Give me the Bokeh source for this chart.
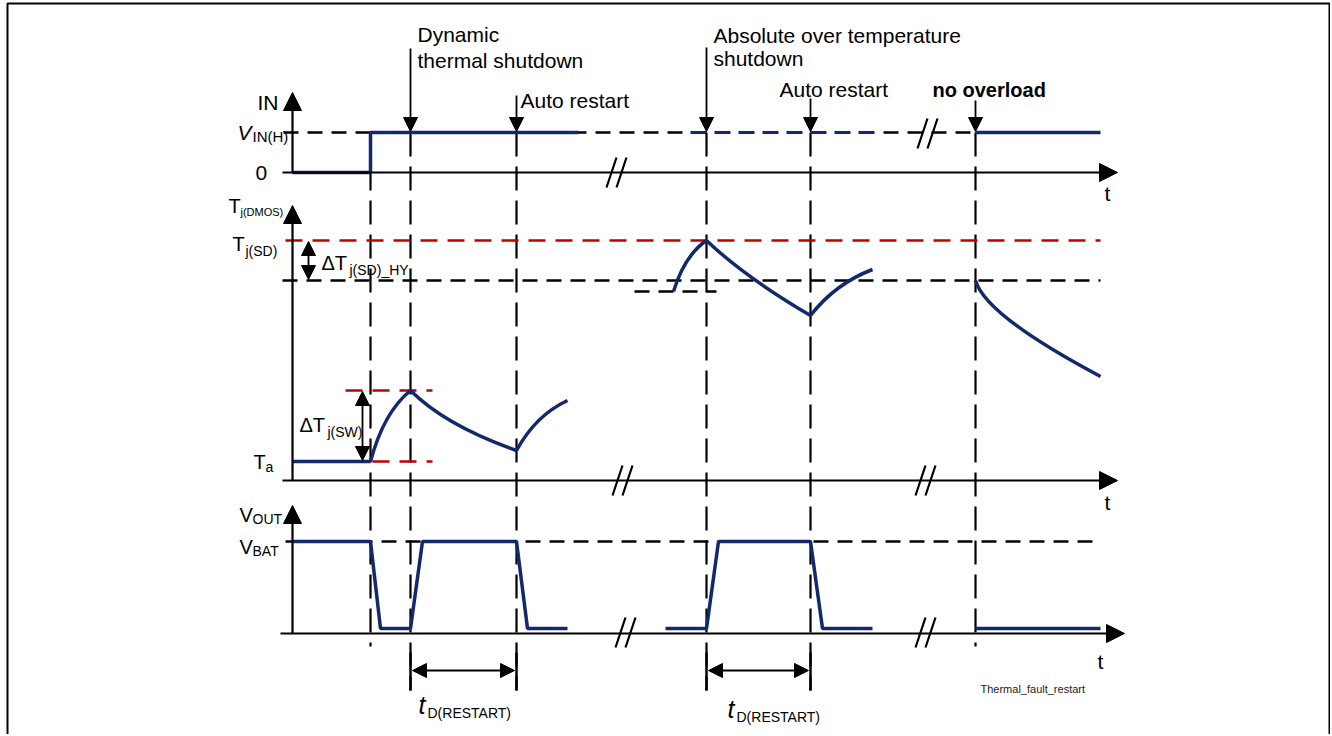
from bokeh.plotting import figure
from bokeh.models import Range1d, Arrow, NormalHead
from bokeh.core.properties import value
from bokeh.embed import file_html
from bokeh.resources import INLINE

# ---------------- data (diagram coordinates: x = time position, y = level row) ----------
# event instants
event_x = [370, 410, 516, 706, 810, 975]
vline_top = [132, 132, 132, 132, 132, 132]
vline_bot = [646, 690, 690, 690, 690, 646]

# IN signal
in1_x = [292, 370, 370, 578]
in1_y = [172, 172, 132, 132]
in2_x = [680, 880]
in2_y = [132, 132]
in3_x = [975, 1100]
in3_y = [132, 132]

# Tj: ambient level and curve segments (quadratic pieces)
ta_x = [292, 370]
ta_y = [461, 461]
tj_x0 = [370, 410, 516, 673, 706, 810, 975]
tj_y0 = [461, 390, 450, 291, 240, 315, 280]
tj_x1 = [410, 516, 567, 706, 810, 872, 1100]
tj_y1 = [390, 450, 400, 240, 315, 269, 376]
tj_cx = [383, 445, 535, 684, 745, 835, 985]
tj_cy = [412, 425, 415, 255, 277, 283, 315]

# VOUT signal
vo1_x = [292, 370, 380, 410, 422, 516, 527, 567]
vo1_y = [541, 541, 628, 628, 541, 541, 628, 628]
vo2_x = [665, 706, 718, 810, 822, 872]
vo2_y = [628, 628, 541, 541, 628, 628]
vo3_x = [975, 1100]
vo3_y = [628, 628]

# reference levels (dashed)
blk_x0 = [283, 282, 634, 285]
blk_x1 = [975, 1100, 716, 1100]
blk_y = [132, 280, 291, 541]
red_x0 = [285, 345, 372]
red_x1 = [1100, 432, 432]
red_y = [240, 390, 461]

# axes
yaxis_x = [292, 292, 292]
yaxis_y0 = [172, 480, 633]
yaxis_y1 = [92, 205, 505]
taxis_x0 = [282, 282, 280]
taxis_x1 = [1117, 1117, 1124]
taxis_y = [172, 480, 633]

# axis break marks "//"
brk_xs = [[606, 616], [616, 626], [612, 622], [622, 632], [915, 925], [925, 935],
          [615, 625], [625, 635], [915, 925], [925, 935], [917, 927], [927, 937]]
brk_ys = [[187, 157], [187, 157], [495, 465], [495, 465], [495, 465], [495, 465],
          [647, 617], [647, 617], [647, 617], [647, 617], [148, 118], [148, 118]]

# annotation arrows
ev_arrow_x = [410, 516, 706, 810, 975]
ev_arrow_y0 = [48, 95, 47, 98, 100]
ev_arrow_y1 = [131, 131, 131, 131, 131]
dbl_v_x = [308, 362]
dbl_v_y0 = [241, 391]
dbl_v_y1 = [279, 460]
dim_x0 = [410, 706]
dim_x1 = [516, 810]
dim_y = [670, 670]

# frame
frame_l, frame_r, frame_t, frame_b = [7], [1329], [3], [740]

# texts
main_txt = ["Dynamic", "thermal shutdown", "Auto restart", "Absolute over temperature",
            "shutdown", "Auto restart", "IN", "0", "t", "t", "t"]
main_x = [417, 417, 520, 713, 713, 779, 257, 255, 1104, 1104, 1097]
main_y = [34, 60, 100, 35, 58, 89, 102, 172, 193, 502, 661]

sym_txt = ["T", "T", "\u0394T", "\u0394T", "T", "V", "V"]
sym_x = [228, 232, 321, 299, 253, 239, 239]
sym_y = [205, 243, 262, 424, 461, 514, 546]
sub_txt = ["j(SD)", "j(SD)_HY", "j(SW)", "a", "OUT", "BAT"]
sub_x = [245, 349, 327, 265, 252, 252]
sub_y = [250, 269, 431, 466, 518, 550]

# ---------------- figure ----------------
W, H = 1330, 734
p = figure(width=W, height=H, x_range=Range1d(0, W), y_range=Range1d(H, 0),
           output_backend="svg", toolbar_location=None, min_border=0,
           x_axis_location=None, y_axis_location=None)
p.grid.visible = False
p.outline_line_color = None
p.background_fill_color = "white"

FONT = value("Liberation Sans")
BLUE = "#13296b"
RED = "#c00000"

p.quad(left=frame_l, right=frame_r, top=frame_t, bottom=frame_b, fill_color=None,
       line_color="black", line_width=2)

# vertical event lines
p.segment(x0=event_x, y0=vline_top, x1=event_x, y1=vline_bot,
          line_color="black", line_width=2.2, line_dash="24 10")

# dashed reference levels
p.segment(x0=blk_x0, y0=blk_y, x1=blk_x1, y1=blk_y, line_color="black",
          line_width=2.6, line_dash="15 9")
p.segment(x0=red_x0, y0=red_y, x1=red_x1, y1=red_y, line_color=RED,
          line_width=2.6, line_dash="17 10")

# axes (lines + arrow heads)
for x, y0, y1 in zip(yaxis_x, yaxis_y0, yaxis_y1):
    p.add_layout(Arrow(x_start=x, y_start=y0, x_end=x, y_end=y1, line_width=2.2,
                       end=NormalHead(size=18, fill_color="black", line_color="black")))
for x0, x1, y in zip(taxis_x0, taxis_x1, taxis_y):
    p.add_layout(Arrow(x_start=x0, y_start=y, x_end=x1, y_end=y, line_width=2.2,
                       end=NormalHead(size=18, fill_color="black", line_color="black")))

# break marks
p.multi_line(xs=brk_xs, ys=brk_ys, line_color="black", line_width=2.2)

# signals
p.line(in1_x, in1_y, line_color=BLUE, line_width=3.5)
p.line(in2_x, in2_y, line_color=BLUE, line_width=3.2, line_dash="15 9", line_dash_offset=14)
p.line(in3_x, in3_y, line_color=BLUE, line_width=3.5)
p.line(ta_x, ta_y, line_color=BLUE, line_width=3.5)
p.quadratic(x0=tj_x0, y0=tj_y0, x1=tj_x1, y1=tj_y1, cx=tj_cx, cy=tj_cy,
            line_color=BLUE, line_width=3.5)
p.line(vo1_x, vo1_y, line_color=BLUE, line_width=3.5)
p.line(vo2_x, vo2_y, line_color=BLUE, line_width=3.5)
p.line(vo3_x, vo3_y, line_color=BLUE, line_width=3.5)

# event arrows
for x, y0, y1 in zip(ev_arrow_x, ev_arrow_y0, ev_arrow_y1):
    p.add_layout(Arrow(x_start=x, y_start=y0, x_end=x, y_end=y1, line_width=1.8,
                       end=NormalHead(size=14, fill_color="black", line_color="black")))
# double arrows
for x, y0, y1 in zip(dbl_v_x, dbl_v_y0, dbl_v_y1):
    p.add_layout(Arrow(x_start=x, y_start=y0, x_end=x, y_end=y1, line_width=1.8,
                       start=NormalHead(size=14, fill_color="black", line_color="black"),
                       end=NormalHead(size=14, fill_color="black", line_color="black")))
for x0, x1, y in zip(dim_x0, dim_x1, dim_y):
    p.add_layout(Arrow(x_start=x0 + 2, y_start=y, x_end=x1 - 2, y_end=y, line_width=1.8,
                       start=NormalHead(size=14, fill_color="black", line_color="black"),
                       end=NormalHead(size=14, fill_color="black", line_color="black")))
    p.segment(x0=[x0, x1], y0=[652, 652], x1=[x0, x1], y1=[690, 690],
              line_color="black", line_width=2.5)

# texts
p.text(x=main_x, y=main_y, text=main_txt, text_font=FONT, text_font_size="21px",
       text_baseline="middle", text_align="left", text_color="black")
p.text(x=[932], y=[89], text=["no overload"], text_font=FONT, text_font_size="20px",
       text_font_style="bold", text_baseline="middle", text_color="black")
p.text(x=sym_x, y=sym_y, text=sym_txt, text_font=FONT, text_font_size="20px",
       text_baseline="middle", text_color="black")
p.text(x=sub_x, y=sub_y, text=sub_txt, text_font=FONT, text_font_size="14px",
       text_baseline="middle", text_color="black")
p.text(x=[240], y=[211], text=["j(DMOS)"], text_font=FONT, text_font_size="11px",
       text_baseline="middle", text_color="black")
# V_IN(H)
p.text(x=[237], y=[132], text=["V"], text_font=FONT, text_font_size="21px",
       text_font_style="italic", text_baseline="middle")
p.text(x=[252], y=[136], text=["IN(H)"], text_font=FONT, text_font_size="15px",
       text_baseline="middle")
# t_D(RESTART)
p.text(x=[418, 727], y=[704, 708], text=["t", "t"], text_font=FONT, text_font_size="25px",
       text_font_style="italic", text_baseline="middle")
p.text(x=[427, 736], y=[712, 716], text=["D(RESTART)", "D(RESTART)"], text_font=FONT,
       text_font_size="14px", text_baseline="middle")
p.text(x=[980], y=[688], text=["Thermal_fault_restart"], text_font=FONT,
       text_font_size="11px", text_baseline="middle", text_color="#222222")

open("out.html", "w").write(file_html(p, INLINE))
